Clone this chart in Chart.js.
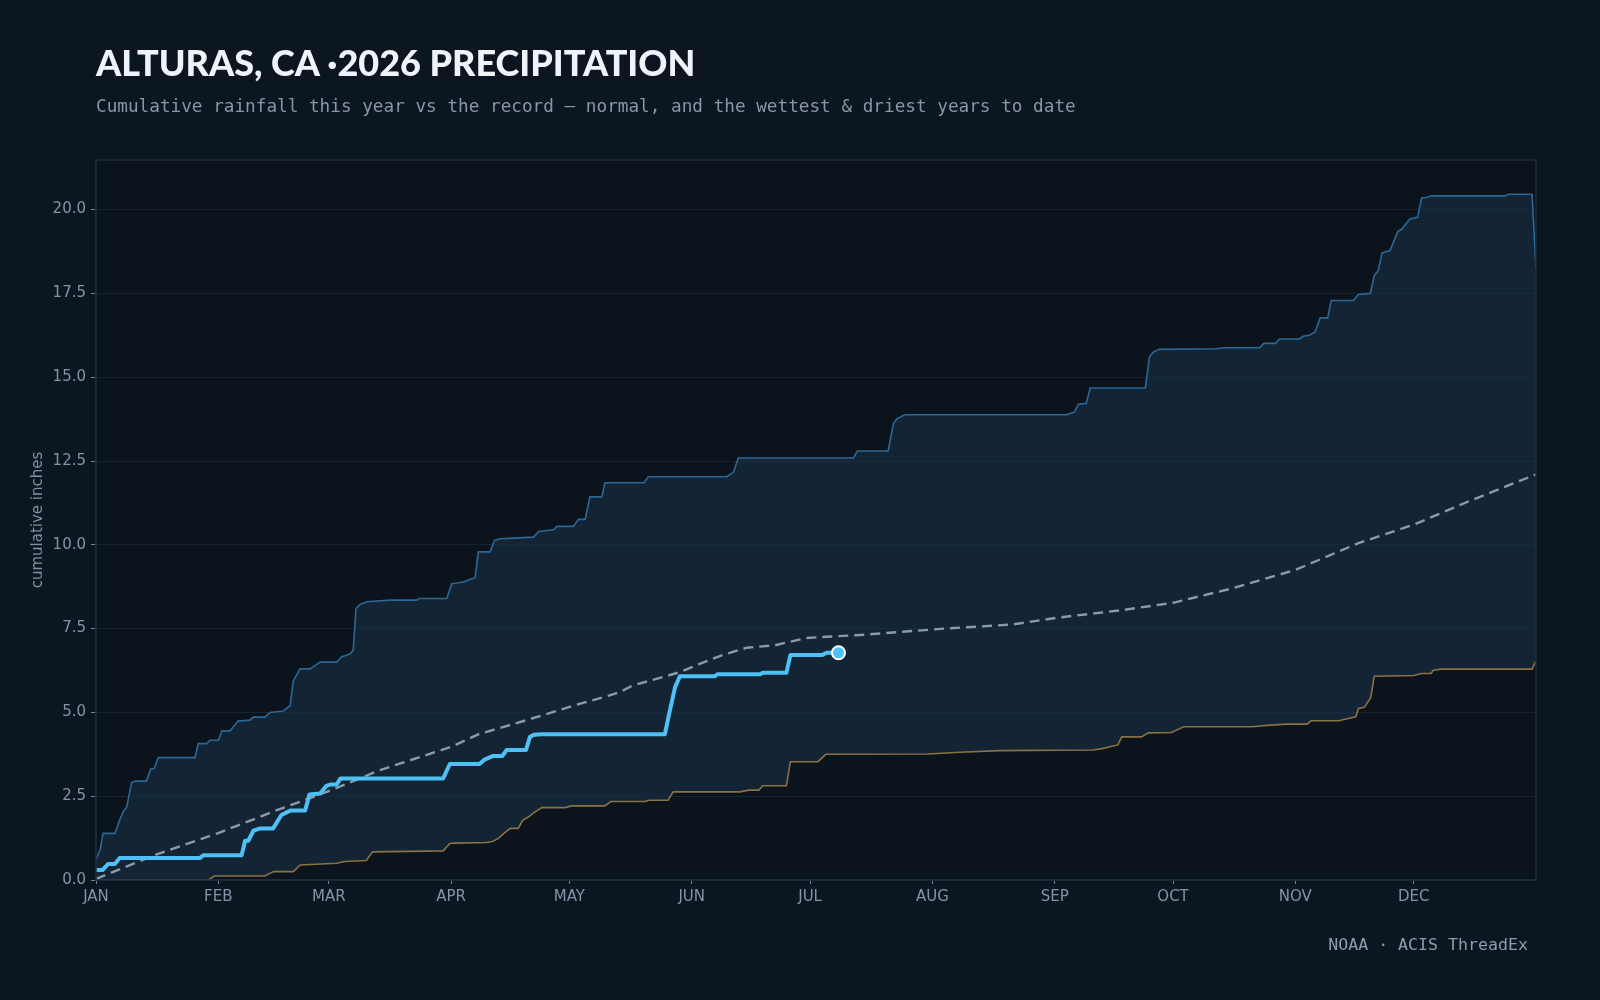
<!DOCTYPE html>
<html>
<head>
<meta charset="utf-8">
<script src="https://cdn.jsdelivr.net/npm/chart.js@4.4.1/dist/chart.umd.min.js"></script>
<style>
  html, body { margin:0; padding:0; background:#0c1620; width:1600px; height:1000px; overflow:hidden; }
  #wrap { position:relative; width:1600px; height:1000px; }
  canvas { position:absolute; left:0; top:0; }
  .title { position:absolute; left:96px; top:44px; font-family:"Lato","Open Sans",sans-serif; font-weight:900; font-size:36px; line-height:1; color:#eef4fa; white-space:nowrap; }
  .sub { position:absolute; left:96px; top:98px; font-family:"DejaVu Sans Mono",monospace; font-size:17.7px; line-height:1; color:#8797aa; white-space:nowrap; }
  .foot { position:absolute; right:72px; top:937px; font-family:"DejaVu Sans Mono",monospace; font-size:16.6px; line-height:1; color:#8d9db0; white-space:nowrap; }
</style>
</head>
<body>
<div id="wrap">
  <canvas id="c" width="1600" height="1000"></canvas>
  <div class="title">ALTURAS, CA ·2026 PRECIPITATION</div>
  <div class="sub">Cumulative rainfall this year vs the record — normal, and the wettest &amp; driest years to date</div>
  <div class="foot">NOAA · ACIS ThreadEx</div>
</div>
<script>
// ---- tick labels ----
const MONTH_DAYS   = [0, 31, 59, 90, 120, 151, 181, 212, 243, 273, 304, 334];
const MONTH_LABELS = ["JAN","FEB","MAR","APR","MAY","JUN","JUL","AUG","SEP","OCT","NOV","DEC"];

// ---- wettest year to date (day of year, cumulative inches) ----
const WET_DAYS = [0,1,1.8,4.8,6,6.9,7.8,9,9.9,12.8,13.9,14.7,15.8,25.1,25.9,28,28.9,31,31.9,34,36,39,39.9,42.8,44.1,47.4,49.2,50,51.7,54.3,56.8,61,62.3,64.4,65.2,65.9,67,68.7,74.6,81.3,82,88.9,90.2,91.5,93.4,94.5,96.1,96.9,99.9,101,102.4,105.8,110.9,112.2,116,116.8,121,122.3,124,125.2,128.2,129,138.9,140,159.9,161.6,162.8,192,193,200.8,202.1,203,205,246,248,249,251,252,266,267,268,269.5,284,286,295,296,299,300,305,306,307.5,309,310.3,312.2,313.1,318.7,320,323,324,325,326,328,330,331,333,335,336,337.5,338.4,357.2,358,364,365];
const WET_VALS = [0.62,0.88,1.39,1.39,1.79,2.04,2.18,2.9,2.95,2.95,3.32,3.32,3.65,3.65,4.07,4.07,4.17,4.17,4.45,4.45,4.74,4.77,4.86,4.86,5.0,5.04,5.2,5.94,6.3,6.3,6.5,6.5,6.66,6.74,6.86,8.1,8.23,8.3,8.35,8.35,8.4,8.4,8.84,8.86,8.9,8.96,9.02,9.79,9.79,10.13,10.18,10.2,10.23,10.4,10.45,10.55,10.55,10.76,10.76,11.43,11.43,11.85,11.85,12.03,12.03,12.17,12.59,12.59,12.8,12.8,13.61,13.76,13.88,13.88,13.96,14.19,14.22,14.68,14.68,15.6,15.75,15.83,15.85,15.88,15.88,16.01,16.01,16.14,16.14,16.22,16.25,16.35,16.77,16.77,17.29,17.29,17.47,17.5,18.03,18.18,18.71,18.78,19.35,19.42,19.72,19.77,20.35,20.37,20.41,20.41,20.46,20.46,18.23];

// ---- driest year to date ----
const DRY_DAYS = [0,28.5,30,42.8,45,50,51.8,61,63,68.5,70.1,88,89.7,91,99,100.5,102,104,105,107,108.2,109.5,111,113,118.9,120.5,129,130.5,139.2,140.2,145,146.3,163.2,165.5,168,169,175,176,183,185,211,219,229,252.7,255,259,260,265,266.7,272.6,275.7,293,297.6,302,307,308,315,318.5,319.3,320,321.5,323.1,324,334,336,338.4,339,341,364,365];
const DRY_VALS = [0,0,0.12,0.12,0.25,0.25,0.45,0.5,0.55,0.58,0.84,0.87,1.09,1.1,1.12,1.15,1.24,1.45,1.54,1.54,1.79,1.87,2.01,2.16,2.16,2.21,2.21,2.34,2.34,2.38,2.38,2.63,2.63,2.68,2.68,2.81,2.81,3.53,3.53,3.75,3.76,3.81,3.86,3.88,3.92,4.03,4.27,4.27,4.39,4.4,4.57,4.57,4.62,4.65,4.65,4.75,4.75,4.85,4.87,5.12,5.15,5.44,6.08,6.1,6.16,6.16,6.26,6.29,6.29,6.54];

// ---- normal ----
const NORM_DAYS = [0,15,31,46,59,72,90,97,110,121,130,133,136,148,153,159,165,172,180,195,215,232,244,260,273,288,304,320,334,348,365];
const NORM_VALS = [0.03,0.75,1.4,2.09,2.65,3.28,3.97,4.35,4.8,5.2,5.5,5.62,5.8,6.2,6.45,6.72,6.93,7.0,7.22,7.32,7.5,7.62,7.83,8.05,8.27,8.7,9.25,10.05,10.6,11.3,12.1];

// ---- this year (2026) ----
const OBS_DAYS = [0,1.7,3.1,4.8,6,26.4,27.2,36.9,37.8,38.6,39.9,41.6,44.9,47,49.2,53,54.1,56.8,58.3,59.3,61,62,88,89.7,97.2,98.6,100.7,103,104.1,109,110,111,113,144.2,145.3,146.8,148,156.9,157.5,168.3,169,175,176,184,185.2,188.2];
const OBS_VALS = [0.3,0.3,0.48,0.48,0.66,0.66,0.74,0.74,1.17,1.17,1.47,1.54,1.54,1.94,2.07,2.07,2.55,2.58,2.8,2.85,2.85,3.03,3.03,3.46,3.46,3.6,3.7,3.7,3.88,3.88,4.27,4.33,4.35,4.35,4.97,5.76,6.08,6.08,6.14,6.14,6.18,6.18,6.71,6.71,6.78,6.78];

const Y_MAX = 21.48;

const pts = (xs, ys) => xs.map((x, i) => ({ x, y: ys[i] }));

const plotFrame = {
  id: 'plotFrame',
  beforeDraw(chart) {
    const { ctx, chartArea: a } = chart;
    ctx.save();
    ctx.fillStyle = '#0b141c';
    ctx.fillRect(a.left, a.top, a.right - a.left, a.bottom - a.top);
    ctx.restore();
  },
  afterDatasetsDraw(chart) {
    const { ctx, chartArea: a } = chart;
    ctx.save();
    ctx.strokeStyle = '#1b2d3e';
    ctx.lineWidth = 1.5;
    ctx.strokeRect(a.left, a.top, a.right - a.left, a.bottom - a.top);
    ctx.restore();
  }
};

const obsLast = OBS_DAYS.length - 1;

new Chart(document.getElementById('c'), {
  type: 'line',
  data: {
    datasets: [
      {
        label: 'wettest',
        data: pts(WET_DAYS, WET_VALS),
        borderColor: '#2c6796',
        borderWidth: 1.6,
        pointRadius: 0,
        fill: { target: '+1' },
        backgroundColor: 'rgba(24,48,68,0.62)',
        order: 3
      },
      {
        label: 'driest',
        data: pts(DRY_DAYS, DRY_VALS),
        borderColor: '#8a7146',
        borderWidth: 1.6,
        pointRadius: 0,
        fill: false,
        order: 2
      },
      {
        label: 'normal',
        data: pts(NORM_DAYS, NORM_VALS),
        borderColor: '#8a9aab',
        borderWidth: 2.4,
        borderDash: [10, 6],
        pointRadius: 0,
        fill: false,
        order: 1
      },
      {
        label: '2026',
        data: pts(OBS_DAYS, OBS_VALS),
        borderColor: '#4fc0f5',
        borderWidth: 4,
        borderJoinStyle: 'round',
        borderCapStyle: 'round',
        pointRadius: (c) => c.dataIndex === obsLast ? 6.5 : 0,
        pointBackgroundColor: '#4fc0f5',
        pointBorderColor: '#ffffff',
        pointBorderWidth: 2,
        fill: false,
        order: 0
      }
    ]
  },
  options: {
    responsive: false,
    animation: false,
    devicePixelRatio: 1,
    layout: { padding: { top: 160, right: 64, left: 0, bottom: 0 } },
    plugins: { legend: { display: false }, tooltip: { enabled: false }, title: { display: false } },
    elements: { line: { tension: 0 } },
    scales: {
      x: {
        type: 'linear',
        min: 0,
        max: 365,
        afterFit: (s) => { s.height = 120; },
        afterBuildTicks: (s) => { s.ticks = MONTH_DAYS.map(v => ({ value: v })); },
        ticks: {
          autoSkip: false,
          maxRotation: 0,
          padding: 4,
          color: '#8394a8',
          font: { family: 'DejaVu Sans', size: 15 },
          callback: (v) => { const i = MONTH_DAYS.indexOf(v); return i >= 0 ? MONTH_LABELS[i] : ''; }
        },
        grid: { drawOnChartArea: false, drawTicks: true, tickLength: 4, tickColor: '#6d7f92', color: '#1b2d3e' },
        border: { display: true, color: '#1b2d3e', width: 1.5 }
      },
      y: {
        min: 0,
        max: Y_MAX,
        afterFit: (s) => { s.width = 96; },
        ticks: {
          stepSize: 2.5,
          includeBounds: false,
          padding: 5,
          color: '#8394a8',
          font: { family: 'DejaVu Sans', size: 15 },
          callback: (v) => Number(v).toFixed(1)
        },
        grid: { color: '#142433', lineWidth: 1, drawTicks: true, tickLength: 5, tickColor: '#6d7f92' },
        border: { display: true, color: '#1b2d3e', width: 1.5 },
        title: {
          display: true,
          text: 'cumulative inches',
          color: '#7f90a3',
          font: { family: 'DejaVu Sans', size: 15 },
          padding: { top: 29, bottom: 0 }
        }
      }
    }
  },
  plugins: [plotFrame]
});
</script>
</body>
</html>
